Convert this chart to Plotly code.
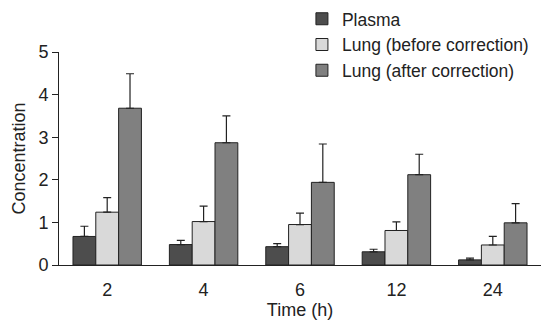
import plotly.graph_objects as go

categories = ["2", "4", "6", "12", "24"]
plasma = [0.67, 0.48, 0.43, 0.31, 0.12]
plasma_err = [0.24, 0.10, 0.07, 0.06, 0.04]
lung_before = [1.24, 1.02, 0.95, 0.81, 0.47]
lung_before_err = [0.34, 0.36, 0.27, 0.20, 0.20]
lung_after = [3.68, 2.87, 1.94, 2.12, 0.99]
lung_after_err = [0.81, 0.63, 0.90, 0.48, 0.45]

series = [
    ("Plasma", plasma, plasma_err, "#4d4d4d"),
    ("Lung (before correction)", lung_before, lung_before_err, "#d9d9d9"),
    ("Lung (after correction)", lung_after, lung_after_err, "#808080"),
]

fig = go.Figure()
for name, vals, errs, color in series:
    fig.add_trace(go.Bar(
        x=categories, y=vals, name=name,
        marker=dict(color=color, line=dict(color="#222222", width=1)),
        error_y=dict(type="data", array=errs, arrayminus=[0] * len(errs),
                     symmetric=False, color="#222222", thickness=1.2, width=4),
    ))

fig.update_layout(
    width=542, height=320,
    margin=dict(l=59, r=1, t=50, b=55),
    paper_bgcolor="white", plot_bgcolor="white",
    barmode="group", bargap=0.29, bargroupgap=0,
    font=dict(family="Liberation Sans, Arial, sans-serif", size=18, color="#222222"),
    legend=dict(x=0.504, y=1.24, xanchor="left", yanchor="top",
                font=dict(size=17.5), bgcolor="rgba(0,0,0,0)",
                tracegroupgap=0, itemwidth=30),
    xaxis=dict(type="category", showline=True, linecolor="#222222", linewidth=1,
               ticks="", showgrid=False, tickfont=dict(size=18), automargin=False,
               ticklabelstandoff=8,
               title=dict(text="Time (h)", font=dict(size=18), standoff=2)),
    yaxis=dict(range=[0, 5], tickvals=[0, 1, 2, 3, 4, 5], showline=True,
               linecolor="#222222", linewidth=1, ticks="outside", ticklen=6,
               tickcolor="#222222", showgrid=False, zeroline=False,
               tickfont=dict(size=18), automargin=False,
               title=dict(text="Concentration", font=dict(size=18), standoff=8)),
)

fig.write_html("out.html", config={"displayModeBar": False},
               post_script="document.body.style.margin='0';")
